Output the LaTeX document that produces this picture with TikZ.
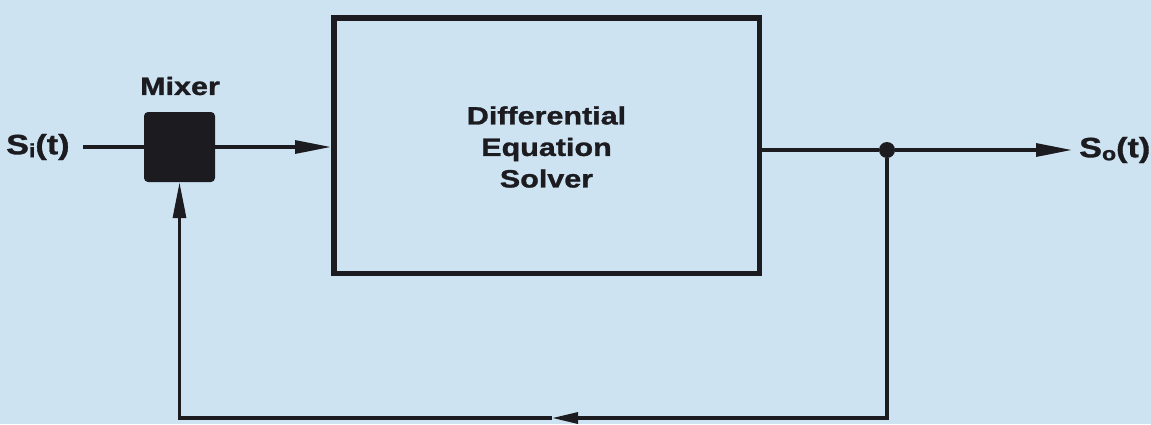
\documentclass[tikz,border=0pt]{standalone}
\usepackage{fontspec}
\setmainfont{Liberation Sans}[FakeStretch=1.22, BoldFeatures={FakeBold=1.2}]
\usetikzlibrary{arrows.meta}
\definecolor{bg}{RGB}{206,227,242}
\definecolor{ink}{RGB}{28,28,32}
\newcommand{\mysub}[1]{{\fontsize{19}{19}\selectfont\raisebox{-3pt}{#1}}}
\begin{document}
\begin{tikzpicture}[x=1pt,y=-1pt,
  lbl/.style={font=\fontsize{25}{31.5}\selectfont\bfseries, text=ink, inner sep=0pt, align=center},
  sig/.style={lbl, font=\fontsize{28}{31.5}\selectfont\bfseries},
  wire/.style={draw=ink, line width=3.2pt},
  arr/.style={wire, -{Triangle[length=36pt,width=13pt]}},
  smallarr/.style={wire, -{Triangle[length=26pt,width=11pt]}},
  blockbox/.style={draw=ink, line width=5.5pt, inner sep=0pt},
]
\fill[bg] (0,0) rectangle (1151,424);
\useasboundingbox (0,0) rectangle (1151,424);

% blocks
\node[blockbox, minimum width=425.5pt, minimum height=255.5pt] (solver) at (546.5,145.5) {};
\node[lbl] (solvertext) at (546.5,147) {Differential\\Equation\\Solver};
\node[fill=ink, rounded corners=4pt, minimum width=71pt, minimum height=70pt, inner sep=0pt] (mixer) at (179.5,147) {};
\node[lbl] (mixerlabel) at (180,86) {Mixer};

% signals
\node[sig, anchor=west] (si) at (6,147) {S\mysub{i}(t)};
\node[sig, anchor=west] (so) at (1079,150) {S\mysub{o}(t)};
\coordinate (inStart) at (83,147);
\node[circle, fill=ink, minimum size=16pt, inner sep=0pt] (dot) at (887,150) {};
\coordinate (outEnd) at (1072,150);
\coordinate (fbR) at (887,418);
\coordinate (fbL) at (mixer.south |- fbR);
\coordinate (fbMid) at (552,418);

% connectors
\draw[wire] (inStart) -- (mixer.west);
\draw[arr] (mixer.east) -- (solver.west |- mixer.east);
\draw[wire] (solver.east |- dot) -- (dot);
\draw[arr] (dot) -- (outEnd);
\draw[smallarr] (dot) -- (fbR) -- (fbMid);
\draw[arr] (fbMid) -- (fbL) -- (mixer.south);
\end{tikzpicture}
\end{document}
